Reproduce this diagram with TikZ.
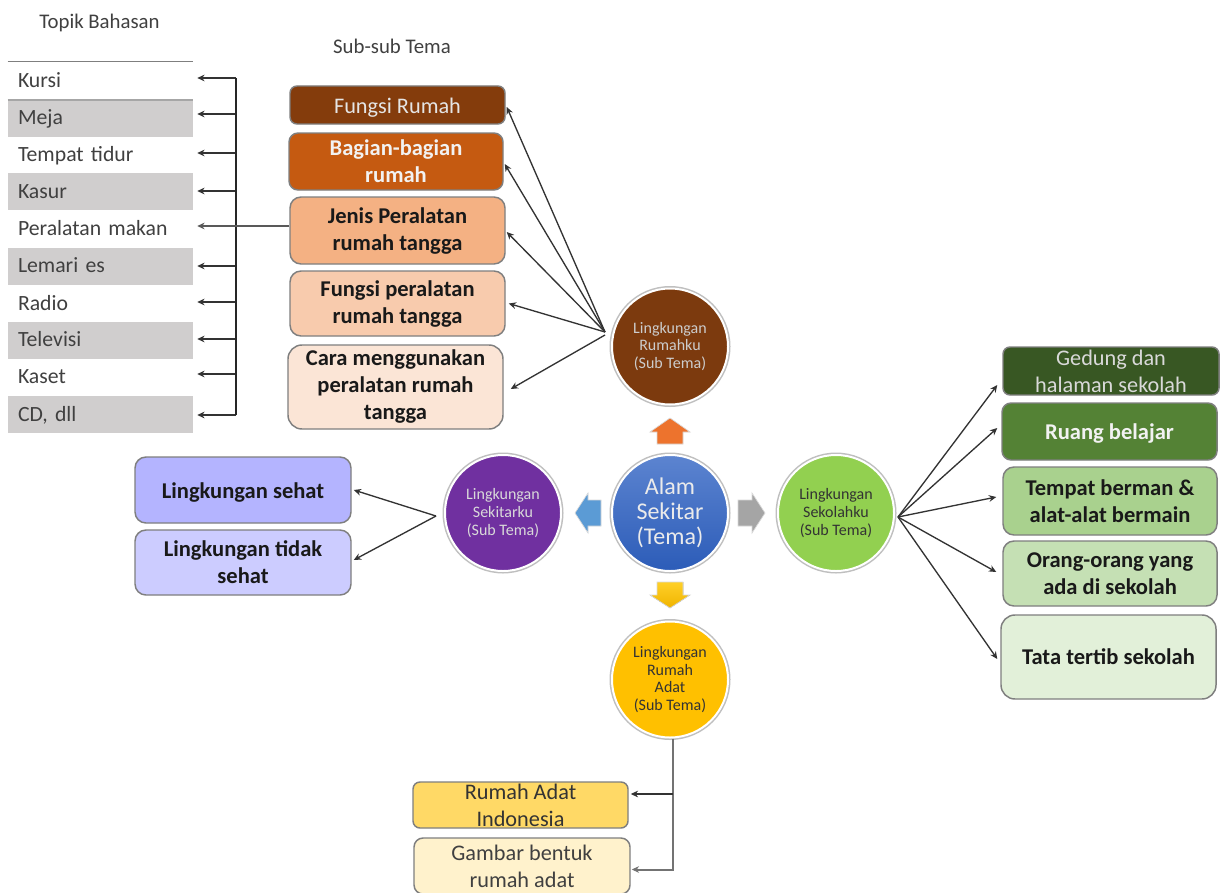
\documentclass[tikz,border=0pt]{standalone}
\usepackage{fontspec}
\setmainfont{Carlito}
\usetikzlibrary{arrows.meta,calc,shadings}
\definecolor{rowgray}{HTML}{D0CECE}
\definecolor{txt}{HTML}{404040}
\definecolor{bdr}{HTML}{7F7F7F}
\newcommand\gapd[1]{\rule{0pt}{0pt}\\[\dimexpr-11.25pt+#1pt\relax]}
\tikzset{
  x=0.75pt,y=-0.75pt,
  wh/.style 2 args={minimum width=#1*0.75pt,minimum height=#2*0.75pt},
  rowbox/.style={rectangle,inner sep=0pt,text width=165*0.75pt,align=left,
    minimum width=185*0.75pt,minimum height=37*0.75pt,text=txt,
    font=\fontsize{16.3}{19}\selectfont,text height=14pt,text depth=4pt},
  head/.style={inner sep=0pt,text=txt,font=\fontsize{15.6}{18}\selectfont},
  tbox/.style={rectangle,rounded corners=#1*0.75pt,draw=bdr,line width=1.1pt,inner sep=0pt,align=center,
    font=\fontsize{16.7}{20.25}\selectfont},
  tbox/.default=9,
  bbox/.style={tbox=#1,font=\fontsize{16.9}{20.25}\selectfont\bfseries},
  bbox/.default=9,
  oneline/.style={execute at begin node={\rule{0pt}{15pt}}},
  ring/.style={circle,inner sep=0pt,minimum size=116*0.75pt,draw=white,line width=1.5pt,align=center,
    preaction={draw=black!25,line width=3.75pt},
    font=\fontsize{12}{13.25}\selectfont},
  blockarrow/.style={draw=black!15,line width=0.5pt},
  arr/.style={-{Stealth[length=5.5pt,width=5pt]},line width=1pt,draw=black!80},
  arrg/.style={arr,draw=black!55,line width=1.5pt},
}
\begin{document}
\begin{tikzpicture}
\useasboundingbox (0,0) rectangle (1220,892);
\fill[white] (0,0) rectangle (1220,892);

% headers
\node[head] (hT) at (99.5,22.5) {Topik Bahasan};
\node[head] (hS) at (392,46) {Sub-sub Tema};

% rows
\node[rowbox] (r1) at (100.5,81) {Kursi};
\node[rowbox,fill=rowgray] (r2) at (100.5,118) {Meja};
\node[rowbox] (r3) at (100.5,154.5) {Tempat tidur};
\node[rowbox,fill=rowgray] (r4) at (100.5,191.5) {Kasur};
\node[rowbox] (r5) at (100.5,228.5) {Peralatan makan};
\node[rowbox,fill=rowgray] (r6) at (100.5,266) {Lemari es};
\node[rowbox] (r7) at (100.5,303.5) {Radio};
\node[rowbox,fill=rowgray] (r8) at (100.5,340) {Televisi};
\node[rowbox] (r9) at (100.5,377) {Kaset};
\node[rowbox,fill=rowgray] (r10) at (100.5,414.5) {CD, dll};
\draw[draw=bdr,line width=0.9pt] (r1.north west) ++(0,-0.5) -- ($(r1.north east)+(0,-0.5)$);
\draw[draw=black!35,line width=1.8pt] (r1.south west) -- (r1.south east);

% sub-sub tema boxes
\node[tbox=7,oneline,wh={215}{38},fill={rgb,255:red,132;green,60;blue,12},text=white!90!black] (f1) at (397.5,105) {Fungsi Rumah};
\node[bbox=9,wh={214}{57},fill={rgb,255:red,197;green,90;blue,17},text=white!95!black] (f2) at (396,161.5) {\gapd{2}Bagian-bagian\\rumah};
\node[bbox=11,wh={215}{67},fill={rgb,255:red,244;green,177;blue,131},text=black!90] (f3) at (397.5,230.5) {\gapd{4}Jenis Peralatan\\rumah tangga};
\node[bbox=11,wh={215}{65},fill={rgb,255:red,248;green,203;blue,173},text=black!90] (f4) at (397.5,303.5) {\gapd{4}Fungsi peralatan\\rumah tangga};
\node[bbox=14,wh={215}{84},fill={rgb,255:red,251;green,229;blue,214},text=black!90] (f5) at (395.5,387) {\gapd{2}Cara menggunakan\\peralatan rumah\\tangga};

% circles
\node[ring,top color={rgb,255:red,92;green,132;blue,208},bottom color={rgb,255:red,44;green,92;blue,184},text=white!92!black,font=\fontsize{18}{18.75}\selectfont] (c0) at (670,513) {Alam\\Sekitar\\(Tema)};
\node[ring,fill={rgb,255:red,124;green,58;blue,14},text=white!80!black] (c1) at (670,346.5) {Lingkungan\\Rumahku\\(Sub Tema)};
\node[ring,fill={rgb,255:red,112;green,48;blue,160},text=white!85!black] (c2) at (503,513) {Lingkungan\\Sekitarku\\(Sub Tema)};
\node[ring,fill={rgb,255:red,146;green,208;blue,80},text=black!80] (c3) at (836,513) {Lingkungan\\Sekolahku\\(Sub Tema)};
\node[ring,fill={rgb,255:red,255;green,192;blue,0},text=black!80] (c4) at (670,679.5) {Lingkungan\\Rumah\\Adat\\(Sub Tema)};

% block arrows
\filldraw[blockarrow,fill={rgb,255:red,237;green,115;blue,45}] (670,418) -- (690,432) -- (683,432) -- (683,444) -- (657,444) -- (657,432) -- (650,432) -- cycle;
\filldraw[blockarrow,fill={rgb,255:red,91;green,155;blue,213}] (575,513) -- (588,493) -- (588,500) -- (601,500) -- (601,526) -- (588,526) -- (588,533) -- cycle;
\filldraw[blockarrow,fill={rgb,255:red,165;green,165;blue,165}] (765,513) -- (752,493) -- (752,500) -- (738,500) -- (738,526) -- (752,526) -- (752,533) -- cycle;
\filldraw[blockarrow,top color={rgb,255:red,255;green,208;blue,40},bottom color={rgb,255:red,240;green,180;blue,0}] (670,608) -- (690,595) -- (683,595) -- (683,582) -- (657,582) -- (657,595) -- (650,595) -- cycle;

% left boxes
\node[bbox=11,oneline,wh={216}{66},fill={rgb,255:red,180;green,180;blue,255},text=black!90] (s1) at (243,490) {Lingkungan sehat};
\node[bbox=11,wh={216}{65},fill={rgb,255:red,204;green,204;blue,255},text=black!90] (s2) at (243,562.5) {Lingkungan tidak\\sehat};

% right boxes
\node[tbox=7,wh={216}{48},fill={rgb,255:red,56;green,87;blue,35},text=white!85!black] (g1) at (1111,371) {Gedung dan\\halaman sekolah};
\node[bbox=9,oneline,wh={215}{57},fill={rgb,255:red,84;green,130;blue,53},text=white!95!black] (g2) at (1109.5,431.5) {Ruang belajar};
\node[bbox=11,wh={214}{68},fill={rgb,255:red,169;green,209;blue,142},text=black!90] (g3) at (1110,501) {Tempat berman \&\\alat-alat bermain};
\node[bbox=11,wh={214}{65},fill={rgb,255:red,197;green,224;blue,180},text=black!90] (g4) at (1110,573.5) {\gapd{2}Orang-orang yang\\ada di sekolah};
\node[bbox=14,wh={215}{84},fill={rgb,255:red,226;green,240;blue,217},text=black!90] (g5) at (1108.5,657) {Tata tertib sekolah};

% bottom boxes
\node[tbox=7,wh={215}{46},fill={rgb,255:red,255;green,217;blue,102},text=black!80] (b1) at (520.5,805) {Rumah Adat\\Indonesia};
\node[tbox=9,wh={216}{56},fill={rgb,255:red,255;green,242;blue,204},text=black!75] (b2) at (522,866) {Gambar bentuk\\rumah adat};

% bracket to topic rows
\coordinate (spine) at (236,78);
\foreach \n/\d in {1/3,2/4,3/1.5,4/0.5,6/0,7/1.5,8/1,9/3,10/-0.5}{
  \coordinate (t\n) at ($(r\n.east)+(4,-\d)$);
  \draw[arr] (spine |- t\n) -- (t\n);
}
\coordinate (t5) at ($(r5.east)+(4,-2.5)$);
\draw[draw=black!85,line width=1.2pt] (spine |- t1) -- (spine |- t10);
\draw[arr,draw=black!65] (f3.west |- t5) -- (t5);

% hubs
\coordinate (hubA) at (605,332);
\coordinate (hubB) at (605,335);
\draw[arr] (hubA) -- ($(f1.east)+(1,2)$);
\draw[arr] (hubA) -- ($(f2.east)+(1,2.5)$);
\draw[arr] (hubA) -- ($(f3.east)+(1,1.5)$);
\draw[arr] (hubA) -- ($(f4.east)+(3,0)$);
\draw[arr] (hubB) -- ($(f5.east)+(7,2)$);

\coordinate (hubL) at (436,516);
\draw[arr] (hubL) -- ($(s1.east)+(2,0)$);
\draw[arr] (hubL) -- ($(s2.east)+(2,-2.5)$);

\coordinate (hubR) at (898,517);
\draw[arr] (hubR) -- ($(g1.west)+(-5,14)$);
\draw[arr] (hubR) -- ($(g2.west)+(-4,-3.5)$);
\draw[arr] (hubR) -- ($(g3.west)+(-6,-4)$);
\draw[arr] (hubR) -- ($(g4.west)+(-6,-1.5)$);
\draw[arr] (hubR) -- ($(g5.west)+(-3,2)$);

% bottom connector
\coordinate (drop) at ($(c4.south)+(2.5,0)$);
\draw[arrg] (drop) |- ($(b2.east)+(1,3.5)$);
\draw[arr] ($(drop |- b1.east)+(0,-11)$) -- ($(b1.east)+(2,-11)$);
\end{tikzpicture}
\end{document}
